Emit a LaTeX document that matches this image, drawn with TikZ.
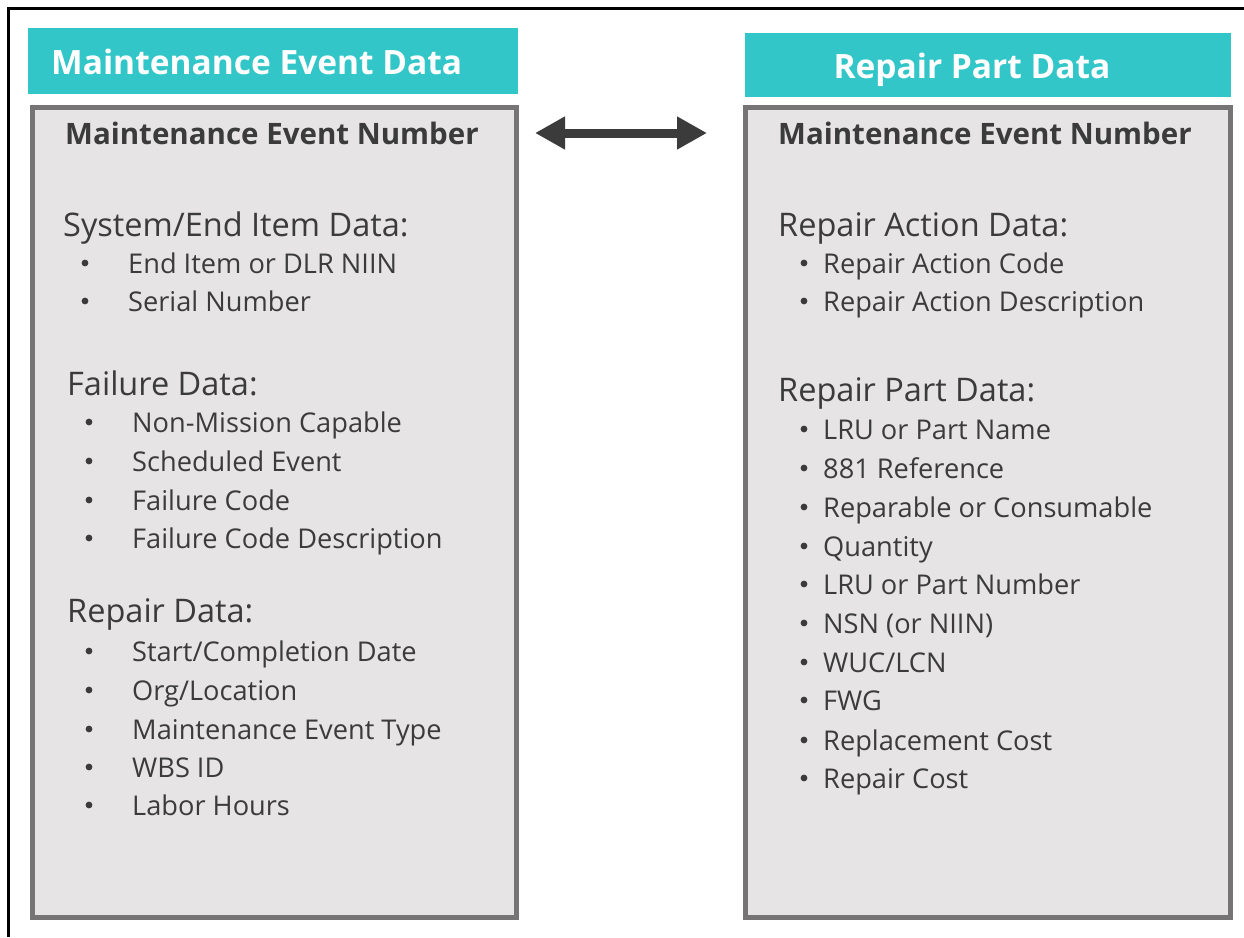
\documentclass[tikz,border=0pt]{standalone}
\usepackage{fontspec}
\setmainfont{Open Sans}
\usetikzlibrary{arrows.meta}
\definecolor{headteal}{HTML}{33C6C8}
\definecolor{panelgray}{HTML}{E6E4E5}
\definecolor{framegray}{HTML}{777475}
\definecolor{ink}{HTML}{3B3B3B}
\tikzset{
  headtext/.style={text=white,inner sep=0,font=\fontsize{33.5}{38}\selectfont\bfseries},
  panel/.style={draw=framegray,fill=panelgray,line width=5pt},
  boxtitle/.style={anchor=base west,inner sep=0,text=ink,font=\fontsize{29.5}{34}\selectfont\bfseries},
  group/.style={anchor=base west,inner sep=0,text=ink,font=\fontsize{32.5}{38}\selectfont},
  item/.style={anchor=base west,inner sep=0,text=ink,font=\fontsize{27.2}{32}\selectfont},
}
\begin{document}
\begin{tikzpicture}[x=1pt,y=-1pt]
\useasboundingbox (0,0) rectangle (1244,937);
\draw[line width=3pt] (8,937) -- (8,8) -- (1244,8);

% headers
\fill[headteal] (28,28) rectangle (518,94);
\fill[headteal] (745,33) rectangle (1231,97);
\node[headtext,anchor=base west] (lhead) at (51,74) {Maintenance Event Data};
\node[headtext,anchor=base] (rhead) at (972,78) {Repair Part Data};

% panels
\draw[panel] (32.5,107.5) rectangle (516.5,917.5);
\draw[panel] (745.5,107.5) rectangle (1230.5,917.5);
\node[boxtitle] (lnum) at (65,144) {Maintenance Event Number};
\node[boxtitle] (rnum) at (778,144) {Maintenance Event Number};

% left side
\node[group] (sys) at (63,236) {System/End Item Data:};
\node[group] (fail) at (67,395) {Failure Data:};
\node[group] (rep) at (67,622) {Repair Data:};
\foreach \x/\y/\t in {128/263/{End Item or DLR NIIN},128/301/{Serial Number},
    132/422/{Non-Mission Capable},132/461/{Scheduled Event},132/500/{Failure Code},132/538/{Failure Code Description},
    132/651/{Start/Completion Date},132/690/{Org/Location},132/729/{Maintenance Event Type},132/767/{WBS ID},132/805/{Labor Hours}}{
    \fill[ink] (\x-43,\y) circle (3.4);
    \node[item] (l\y) at (\x,\y+10) {\t};
}

% right side
\node[group] (ract) at (778,236) {Repair Action Data:};
\node[group] (rpart) at (778,401) {Repair Part Data:};
\foreach \y/\t in {263/{Repair Action Code},301/{Repair Action Description},
    429/{LRU or Part Name},468/{881 Reference},507/{Reparable or Consumable},546/{Quantity},584/{LRU or Part Number},
    623/{NSN (or NIIN)},662/{WUC/LCN},700/{FWG},740/{Replacement Cost},778/{Repair Cost}}{
    \fill[ink] (804,\y) circle (3.4);
    \node[item] (r\y) at (823,\y+10) {\t};
}

% link
\coordinate (linkL) at (535,133);
\coordinate (linkR) at (707,133);
\draw[line width=9pt,draw=ink,{Triangle[length=30pt,width=31pt]}-{Triangle[length=30pt,width=31pt]}] (linkL) -- (linkR);
\end{tikzpicture}
\end{document}
